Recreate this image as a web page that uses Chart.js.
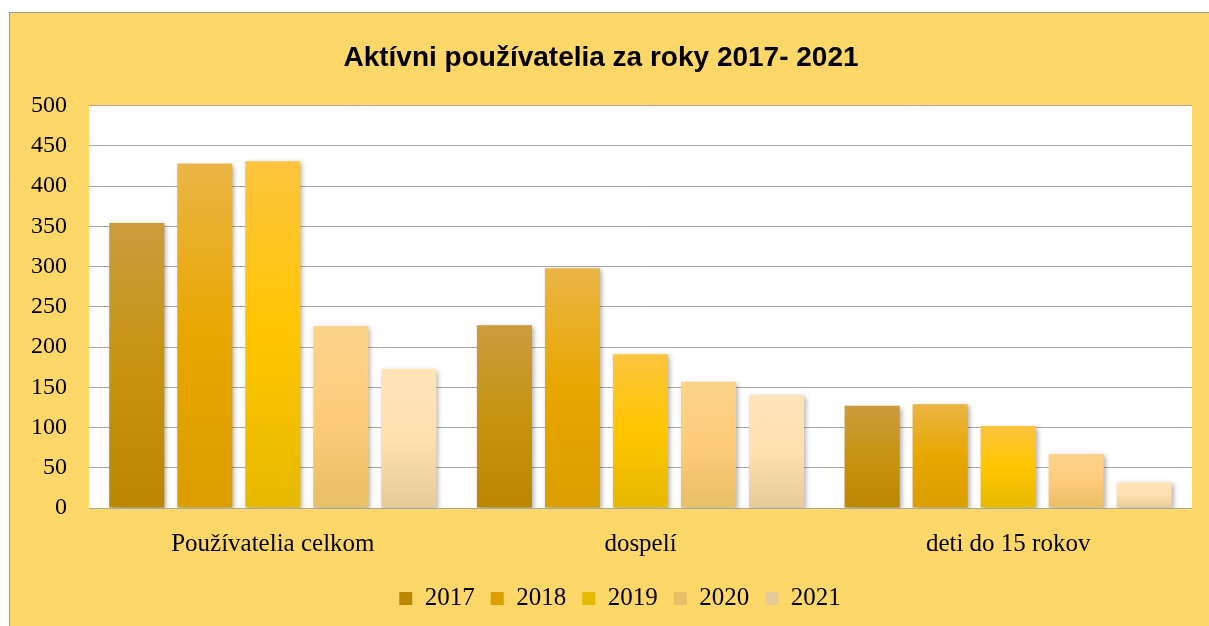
<!DOCTYPE html>
<html lang="sk">
<head>
<meta charset="utf-8">
<title>Aktívni používatelia</title>
<script src="https://cdn.jsdelivr.net/npm/chart.js"></script>
<style>
  html, body { margin: 0; padding: 0; background: #fff; }
  #wrap {
    position: absolute; left: 9px; top: 12px;
    width: 1200px; height: 614px;
    border-left: 1px solid #9a9a9a; border-top: 1px solid #9a9a9a;
    box-sizing: border-box;
  }
</style>
</head>
<body>
<div id="wrap"><canvas id="graf"></canvas></div>
<script>
// Dáta odčítané z grafu
const kategorie = ['Používatelia celkom', 'dospelí', 'deti do 15 rokov'];
const roky = ['2017', '2018', '2019', '2020', '2021'];
const hodnoty2017 = [354, 227, 127];
const hodnoty2018 = [428, 298, 129];
const hodnoty2019 = [431, 191, 102];
const hodnoty2020 = [226, 157, 67];
const hodnoty2021 = [173, 140, 32];
const yMax = 500;
const yKrok = 50;

// Farby stĺpcov (vrch, stred, spodok)
const farby = [
  ['#CB9C3E', '#C69410', '#BB8700'],
  ['#EAB545', '#E8A700', '#DA9E00'],
  ['#FDC43E', '#FFC600', '#E6B900'],
  ['#FDD38B', '#FCCC7A', '#E9BE68'],
  ['#FFE4B9', '#FFE0B0', '#E6CB9A']
];

// gradient pre každý stĺpec zvlášť
function gradient(f) {
  return (context) => {
    const chart = context.chart;
    if (!chart.chartArea || context.raw == null) return f[1];
    const y = chart.scales.y;
    const y0 = y.getPixelForValue(context.raw);
    const y1 = y.getPixelForValue(0);
    const g = chart.ctx.createLinearGradient(0, y0, 0, y1);
    g.addColorStop(0, f[0]);
    g.addColorStop(0.5, f[1]);
    g.addColorStop(1, f[2]);
    return g;
  };
}

const serie = [hodnoty2017, hodnoty2018, hodnoty2019, hodnoty2020, hodnoty2021];

const pozadie = {
  id: 'pozadie',
  afterLayout(chart) {
    // legenda je v origináli trochu posunutá doprava
    if (chart.legend) chart.legend.left = 38;
  },
  beforeDraw(chart) {
    const { ctx, chartArea } = chart;
    ctx.save();
    ctx.fillStyle = '#FDD768';
    ctx.fillRect(0, 0, chart.width, chart.height);
    ctx.fillStyle = '#ffffff';
    ctx.fillRect(chartArea.left, chartArea.top, chartArea.right - chartArea.left, chartArea.bottom - chartArea.top);
    ctx.restore();
  },
  beforeDatasetsDraw(chart) {
    const ctx = chart.ctx;
    ctx.save();
    ctx.shadowColor = 'rgba(0,0,0,0.35)';
    ctx.shadowBlur = 5;
    ctx.shadowOffsetX = 2;
    ctx.shadowOffsetY = 2;
  },
  afterDatasetsDraw(chart) {
    chart.ctx.restore();
  }
};

new Chart(document.getElementById('graf'), {
  type: 'bar',
  data: {
    labels: kategorie,
    datasets: roky.map((rok, i) => ({
      label: rok,
      data: serie[i],
      backgroundColor: gradient(farby[i]),
      borderWidth: 0,
      categoryPercentage: 0.925,
      barPercentage: 0.81
    }))
  },
  options: {
    responsive: true,
    maintainAspectRatio: false,
    animation: false,
    layout: { padding: { left: 0, right: 17, top: 0, bottom: 5 } },
    scales: {
      x: {
        grid: { display: false },
        border: { display: false },
        ticks: {
          color: '#000',
          padding: 13,
          font: { family: 'Liberation Serif', size: 25 }
        },
        afterFit: (scale) => { scale.height = 62; }
      },
      y: {
        min: 0,
        max: yMax,
        grid: { color: '#A6A6A6', drawTicks: false },
        border: { display: false },
        ticks: {
          stepSize: yKrok,
          color: '#000',
          padding: 22,
          font: { family: 'Liberation Serif', size: 24 }
        },
        afterFit: (scale) => { scale.width = 79; }
      }
    },
    plugins: {
      title: {
        display: true,
        text: 'Aktívni používatelia za roky 2017- 2021',
        color: '#000',
        font: { family: 'Liberation Sans', size: 28, weight: 'bold' },
        padding: { top: 28, bottom: 31 }
      },
      legend: {
        position: 'bottom',
        labels: {
          color: '#000',
          boxWidth: 13,
          boxHeight: 13,
          padding: 16,
          font: { family: 'Liberation Serif', size: 25 }
        }
      },
      tooltip: { enabled: false }
    }
  },
  plugins: [pozadie]
});
</script>
</body>
</html>
